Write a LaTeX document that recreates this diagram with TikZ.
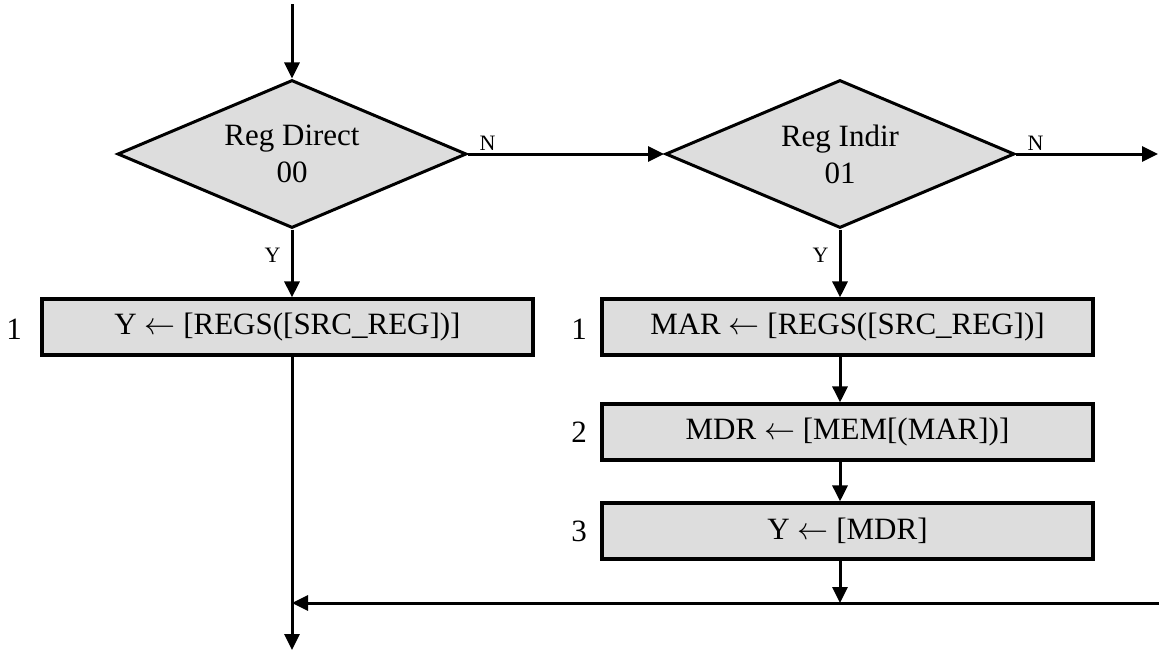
\RequirePackage{fix-cm}
\documentclass[tikz,border=0pt]{standalone}
\usepackage{fontspec}
\setmainfont{Liberation Serif}
\usetikzlibrary{arrows.meta,positioning,shapes.geometric,calc}
\definecolor{boxgray}{RGB}{221,221,221}

\begin{document}
\begin{tikzpicture}[x=1pt, y=-1pt, every node/.style={font=\fontsize{31}{37}\selectfont}, decision/.style={diamond, draw, fill=boxgray, line width=3pt, align=center, inner sep=0pt, aspect=2.358, minimum width=349pt, minimum height=148pt}, stepbox/.style={draw, fill=boxgray, line width=3.2pt, align=center, minimum width=491pt, minimum height=56pt}, lbl/.style={font=\fontsize{22}{25}\selectfont, inner sep=2pt}, num/.style={inner sep=0pt}, arrow/.style={-{Triangle[length=16pt, width=15pt]}, line width=3pt}]
\useasboundingbox (0,0) rectangle (1159,651);
\node[decision] (direct) at (292,154) {Reg Direct\\00};
\node[decision] (indir) at (840,154) {Reg Indir\\01};
\node[stepbox] (yreg) at (287.5,327) {Y $\leftarrow$ [REGS([SRC\_REG])]};
\node[stepbox] (marreg) at (847.5,327) {MAR $\leftarrow$ [REGS([SRC\_REG])]};
\node[stepbox] (mdrmem) at (847.5,432) {MDR $\leftarrow$ [MEM[(MAR])]};
\node[stepbox] (ymdr) at (847.5,531) {Y $\leftarrow$ [MDR]};
\node[num] (n1) at (14,329) {1};
\node[num] (n2) at (579,329) {1};
\node[num] (n3) at (579,432) {2};
\node[num] (n4) at (579,531) {3};
\coordinate (entry) at (292,4);
\coordinate (nout) at (1158,154);
\coordinate (rin) at (1159,603);
\coordinate (merge) at (292,603);
\coordinate (exit) at (292,650);
\draw[arrow] (entry) -- (direct);
\draw[arrow] (direct.east) -- node[lbl, pos=0, above right=0pt and 8pt] {N} (indir.west);
\draw[arrow] (indir.east) -- node[lbl, pos=0, above right=0pt and 8pt] {N} (nout);
\draw[arrow] (direct.south) -- node[lbl, left=8pt, pos=0.38] {Y} (direct.south |- yreg.north);
\draw[arrow] (indir.south) -- node[lbl, left=8pt, pos=0.38] {Y} (indir.south |- marreg.north);
\draw[arrow] (indir.south |- marreg.south) -- (indir.south |- mdrmem.north);
\draw[arrow] (indir.south |- mdrmem.south) -- (indir.south |- ymdr.north);
\draw[arrow] (indir.south |- ymdr.south) -- (indir.south |- merge);
\draw[arrow] (rin) -- (merge);
\draw[arrow] (direct.south |- yreg.south) -- (exit);
\end{tikzpicture}
\end{document}
